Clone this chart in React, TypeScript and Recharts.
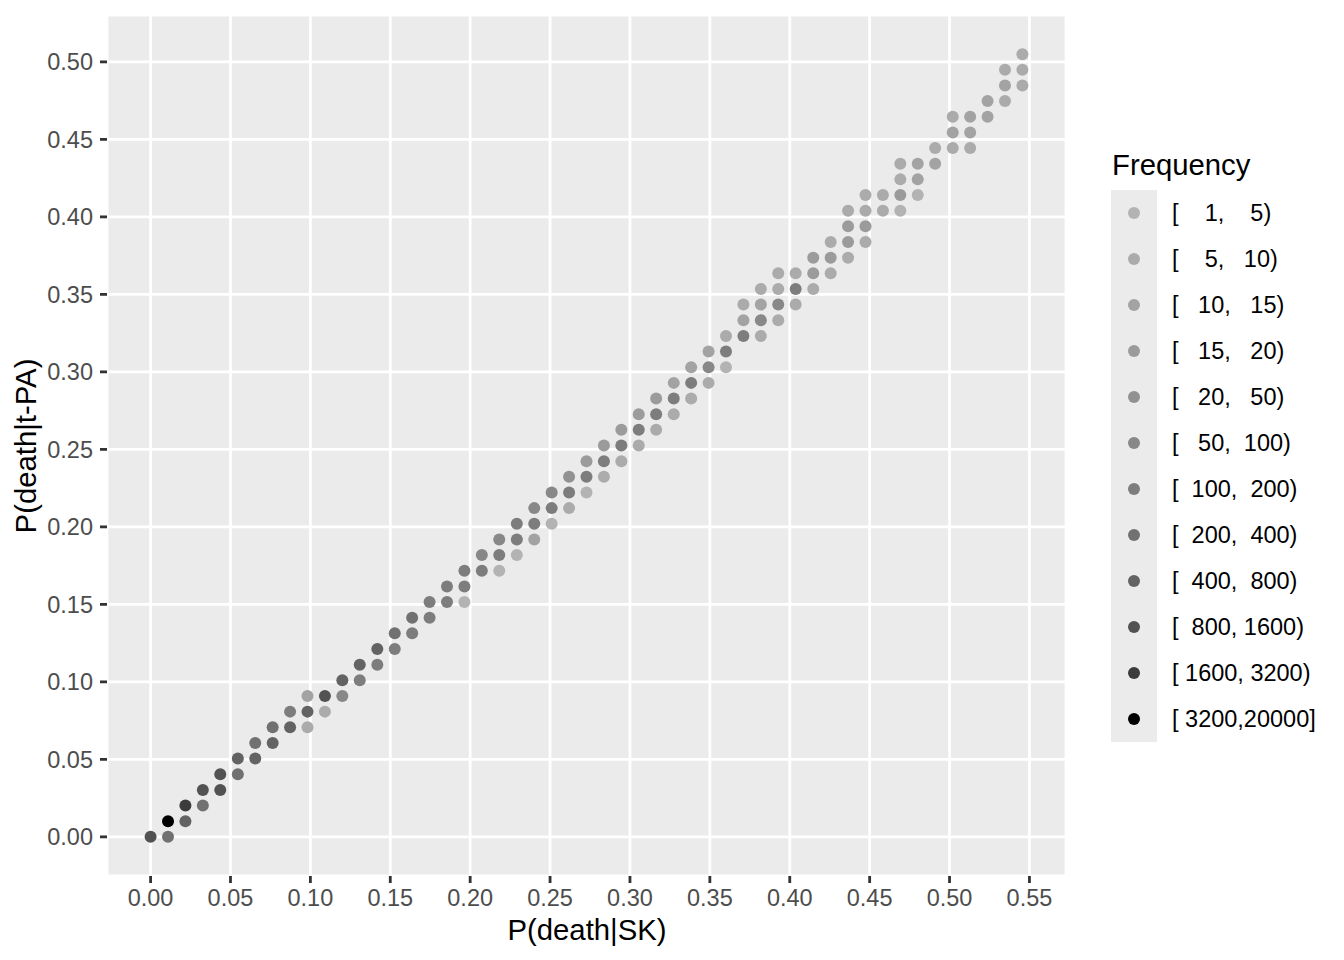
import React from 'react';
import { ScatterChart, Scatter, XAxis, YAxis, CartesianGrid } from 'recharts';

const FONT = '"Liberation Sans", Arial, Helvetica, sans-serif';

// P(death|SK) per point
const pSK = [
  0,
  0.0109, 0.0109,
  0.0218, 0.0218,
  0.0327, 0.0327,
  0.0436, 0.0436,
  0.0546, 0.0546,
  0.0655, 0.0655,
  0.0764, 0.0764,
  0.0873, 0.0873,
  0.0982, 0.0982, 0.0982,
  0.1091, 0.1091,
  0.1200, 0.1200,
  0.1309, 0.1309,
  0.1419, 0.1419,
  0.1528, 0.1528,
  0.1637, 0.1637,
  0.1746, 0.1746,
  0.1855, 0.1855,
  0.1964, 0.1964, 0.1964,
  0.2073, 0.2073,
  0.2182, 0.2182, 0.2182,
  0.2292, 0.2292, 0.2292,
  0.2401, 0.2401, 0.2401,
  0.2510, 0.2510, 0.2510,
  0.2619, 0.2619, 0.2619,
  0.2728, 0.2728, 0.2728,
  0.2837, 0.2837, 0.2837,
  0.2946, 0.2946, 0.2946,
  0.3055, 0.3055, 0.3055,
  0.3164, 0.3164, 0.3164,
  0.3274, 0.3274, 0.3274,
  0.3383, 0.3383, 0.3383,
  0.3492, 0.3492, 0.3492,
  0.3601, 0.3601, 0.3601,
  0.3710, 0.3710, 0.3710,
  0.3819, 0.3819, 0.3819, 0.3819,
  0.3928, 0.3928, 0.3928, 0.3928,
  0.4037, 0.4037, 0.4037,
  0.4147, 0.4147, 0.4147,
  0.4256, 0.4256, 0.4256,
  0.4365, 0.4365, 0.4365, 0.4365,
  0.4474, 0.4474, 0.4474, 0.4474,
  0.4583, 0.4583,
  0.4692, 0.4692, 0.4692, 0.4692,
  0.4801, 0.4801, 0.4801,
  0.4910, 0.4910,
  0.5020, 0.5020, 0.5020,
  0.5129, 0.5129, 0.5129,
  0.5238, 0.5238,
  0.5347, 0.5347, 0.5347,
  0.5456, 0.5456, 0.5456,
];

// P(death|t-PA) per point
const pTPA = [
  0,
  0, 0.0101,
  0.0101, 0.0202,
  0.0202, 0.0303,
  0.0303, 0.0404,
  0.0404, 0.0505,
  0.0505, 0.0606,
  0.0606, 0.0707,
  0.0707, 0.0808,
  0.0707, 0.0808, 0.0909,
  0.0808, 0.0909,
  0.0909, 0.1010,
  0.1010, 0.1111,
  0.1111, 0.1212,
  0.1212, 0.1313,
  0.1313, 0.1414,
  0.1414, 0.1515,
  0.1515, 0.1616,
  0.1515, 0.1616, 0.1717,
  0.1717, 0.1818,
  0.1717, 0.1818, 0.1919,
  0.1818, 0.1919, 0.2020,
  0.1919, 0.2020, 0.2121,
  0.2020, 0.2121, 0.2222,
  0.2121, 0.2222, 0.2323,
  0.2222, 0.2323, 0.2424,
  0.2323, 0.2424, 0.2525,
  0.2424, 0.2525, 0.2626,
  0.2525, 0.2626, 0.2727,
  0.2626, 0.2727, 0.2828,
  0.2727, 0.2828, 0.2929,
  0.2828, 0.2929, 0.3030,
  0.2929, 0.3030, 0.3131,
  0.3030, 0.3131, 0.3232,
  0.3232, 0.3333, 0.3434,
  0.3232, 0.3333, 0.3434, 0.3535,
  0.3333, 0.3434, 0.3535, 0.3636,
  0.3434, 0.3535, 0.3636,
  0.3535, 0.3636, 0.3737,
  0.3636, 0.3737, 0.3838,
  0.3737, 0.3838, 0.3939, 0.4040,
  0.3838, 0.3939, 0.4040, 0.4141,
  0.4040, 0.4141,
  0.4040, 0.4141, 0.4242, 0.4343,
  0.4141, 0.4242, 0.4343,
  0.4343, 0.4444,
  0.4444, 0.4545, 0.4646,
  0.4444, 0.4545, 0.4646,
  0.4646, 0.4747,
  0.4747, 0.4848, 0.4949,
  0.4848, 0.4949, 0.5050,
];

// frequency class (1 = [1,5) ... 12 = [3200,20000]) per point
const freqClass = [
  10,
  8, 12,
  9, 11,
  8, 10,
  10, 10,
  8, 9,
  9, 8,
  9, 8,
  9, 7,
  2, 9, 3,
  2, 10,
  6, 9,
  7, 9,
  7, 9,
  7, 8,
  7, 8,
  7, 7,
  7, 7,
  1, 7, 7,
  7, 6,
  1, 7, 6,
  1, 7, 7,
  3, 7, 6,
  1, 7, 6,
  2, 7, 5,
  1, 7, 4,
  2, 7, 4,
  2, 7, 4,
  2, 7, 4,
  2, 7, 4,
  2, 7, 3,
  2, 7, 3,
  2, 6, 3,
  1, 7, 2,
  7, 3, 2,
  2, 6, 3, 2,
  2, 6, 2, 2,
  2, 7, 2,
  2, 4, 4,
  2, 4, 2,
  2, 4, 4, 2,
  2, 4, 2, 2,
  2, 2,
  1, 4, 2, 2,
  1, 3, 3,
  3, 2,
  2, 3, 2,
  2, 3, 3,
  3, 3,
  2, 3, 2,
  2, 2, 2,
];

const freqLabels = [
  '[    1,    5)',
  '[    5,   10)',
  '[   10,   15)',
  '[   15,   20)',
  '[   20,   50)',
  '[   50,  100)',
  '[  100,  200)',
  '[  200,  400)',
  '[  400,  800)',
  '[  800, 1600)',
  '[ 1600, 3200)',
  '[ 3200,20000]',
];

const freqColors = [
  '#b3b3b3', '#ababab', '#a3a3a3', '#9b9b9b', '#919191', '#888888',
  '#7d7d7d', '#717171', '#636363', '#525252', '#3c3c3c', '#000000',
];

const xTicks = [0, 0.05, 0.1, 0.15, 0.2, 0.25, 0.3, 0.35, 0.4, 0.45, 0.5, 0.55];
const yTicks = [0, 0.05, 0.1, 0.15, 0.2, 0.25, 0.3, 0.35, 0.4, 0.45, 0.5];

const points = pSK.map((x, k) => ({ x, y: pTPA[k], c: freqClass[k] }));
const groups = freqColors.map((color, idx) => ({
  color,
  data: points.filter((p) => p.c === idx + 1),
}));

const tickStyle = { fill: '#4d4d4d', fontSize: 23.5, fontFamily: FONT };
const tickLineStyle = { stroke: '#333333', strokeWidth: 2.8 };

export default function App() {
  return (
    <div
      style={{
        position: 'absolute',
        left: 0,
        top: 0,
        width: 1344,
        height: 960,
        background: '#ffffff',
        fontFamily: FONT,
      }}
    >
      <ScatterChart
        width={1344}
        height={960}
        margin={{ top: 15, right: 278, bottom: 0, left: 0 }}
      >
        <CartesianGrid fill="#ebebeb" stroke="#ffffff" strokeWidth={2.8} />
        <XAxis
          type="number"
          dataKey="x"
          domain={[-0.02728, 0.57288]}
          ticks={xTicks}
          allowDataOverflow
          tickFormatter={(v: number) => v.toFixed(2)}
          height={84}
          tickSize={7}
          tickMargin={6}
          axisLine={false}
          tickLine={tickLineStyle}
          tick={tickStyle}
          interval={0}
        />
        <YAxis
          type="number"
          dataKey="y"
          domain={[-0.02525, 0.53025]}
          ticks={yTicks}
          allowDataOverflow
          tickFormatter={(v: number) => v.toFixed(2)}
          width={107}
          tickSize={7}
          tickMargin={7}
          axisLine={false}
          tickLine={tickLineStyle}
          tick={tickStyle}
          interval={0}
        />
        {groups.map((g, idx) => (
          <Scatter
            key={idx}
            data={g.data}
            isAnimationActive={false}
            fill={g.color}
            shape={(p: any) => <circle cx={p.cx} cy={p.cy} r={6} fill={g.color} />}
          />
        ))}
      </ScatterChart>
      <svg
        width={1344}
        height={960}
        style={{ position: 'absolute', left: 0, top: 0, pointerEvents: 'none' }}
      >
        <text
          x={587}
          y={940}
          textAnchor="middle"
          fontSize={29.3}
          fontFamily={FONT}
          fill="#000000"
        >
          P(death|SK)
        </text>
        <text
          transform="translate(36,446) rotate(-90)"
          textAnchor="middle"
          fontSize={29.3}
          fontFamily={FONT}
          fill="#000000"
        >
          P(death|t-PA)
        </text>
        <text x={1112} y={175} fontSize={29.3} fontFamily={FONT} fill="#000000">
          Frequency
        </text>
        <rect x={1111} y={190} width={46} height={552} fill="#ebebeb" />
        {freqLabels.map((lab, k) => (
          <g key={lab}>
            <circle cx={1134} cy={213 + 46 * k} r={6} fill={freqColors[k]} />
            <text
              x={1172}
              y={213 + 46 * k}
              dy="0.355em"
              fontSize={23.5}
              fontFamily={FONT}
              fill="#000000"
              style={{ whiteSpace: 'pre' }}
            >
              {lab}
            </text>
          </g>
        ))}
      </svg>
    </div>
  );
}
